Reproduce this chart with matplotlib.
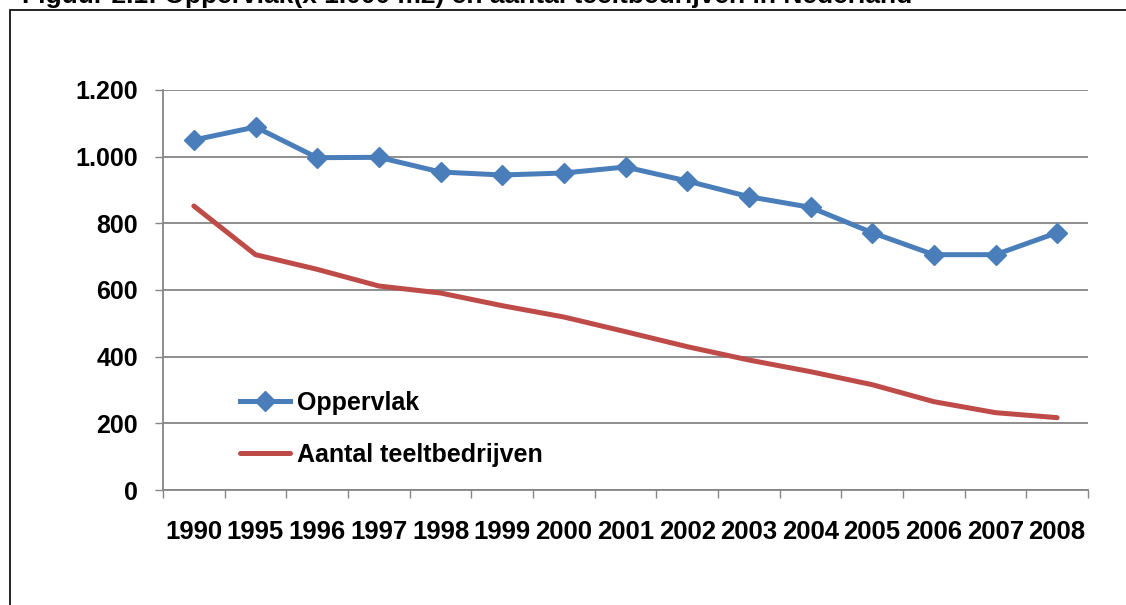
import numpy as np
import matplotlib
matplotlib.use("Agg")
import matplotlib.pyplot as plt
from matplotlib.patches import Rectangle

# data
jaren = ["1990", "1995", "1996", "1997", "1998", "1999", "2000", "2001",
         "2002", "2003", "2004", "2005", "2006", "2007", "2008"]
oppervlak = [1050, 1089, 997, 998, 954, 945, 951, 969,
             927, 880, 848, 772, 706, 706, 772]
bedrijven = [852, 706, 662, 612, 591, 553, 519, 475,
             430, 390, 355, 316, 265, 232, 217]
y_ticks = [0, 200, 400, 600, 800, 1000, 1200]
y_labels = ["0", "200", "400", "600", "800", "1.000", "1.200"]

plt.rcParams["font.family"] = ["Liberation Sans", "DejaVu Sans"]
plt.rcParams["font.weight"] = "bold"

W, H = 1126, 605
fig = plt.figure(figsize=(W / 100, H / 100), dpi=100)

# zwarte kader om de figuur (loopt door buiten beeld)
fig.patches.append(Rectangle((10 / W, -0.1), 1.2, 1 - 10 / H + 0.1,
                             transform=fig.transFigure, fill=False,
                             edgecolor="black", linewidth=1.2))

# afgesneden titel bovenaan (ook in het origineel half buiten beeld)
fig.text(22 / W, 1 - 3 / H,
         "Figuur 2.1: Oppervlak(x 1.000 m2) en aantal teeltbedrijven in Nederland",
         fontsize=19, fontweight="bold", va="baseline", ha="left")

ax = fig.add_axes([163 / W, 1 - 490 / H, (1088 - 163) / W, 400 / H])

x = np.arange(len(jaren))
grid_kleur = "#868686"

ax.plot(x, oppervlak, color="#4A7EBB", linewidth=3.6, marker="D",
        markersize=10.5, label="Oppervlak", zorder=4)
ax.plot(x, bedrijven, color="#BE4B48", linewidth=3.6,
        label="Aantal teeltbedrijven", solid_capstyle="round", zorder=3)

ax.set_xlim(-0.5, len(jaren) - 0.5)
ax.set_ylim(0, 1200)
ax.set_yticks(y_ticks)
ax.set_yticklabels(y_labels)
ax.set_xticks(x)
ax.set_xticklabels(jaren)
ax.set_xticks(np.arange(-0.5, len(jaren), 1.0), minor=True)

ax.tick_params(axis="y", length=6, width=1, color=grid_kleur, pad=12,
               labelsize=18)
ax.tick_params(axis="x", which="major", length=0, pad=21.5, labelsize=18.5)
ax.tick_params(axis="x", which="minor", length=6, width=1, color=grid_kleur)
for lab in ax.get_xticklabels() + ax.get_yticklabels():
    lab.set_fontweight("bold")

ax.grid(axis="y", color=grid_kleur, linewidth=1.3)
ax.set_axisbelow(True)
for side in ["top", "right"]:
    ax.spines[side].set_visible(False)
for side in ["left", "bottom"]:
    ax.spines[side].set_color(grid_kleur)
    ax.spines[side].set_linewidth(1.3)

ax.legend(loc="upper left", bbox_to_anchor=((240 - 163) / 925, (490 - 391) / 400),
          frameon=False, handlelength=2.0, handletextpad=0.28,
          labelspacing=1.12, borderpad=0, borderaxespad=0,
          prop={"weight": "bold", "size": 18})

fig.savefig("out.png", dpi=100)
